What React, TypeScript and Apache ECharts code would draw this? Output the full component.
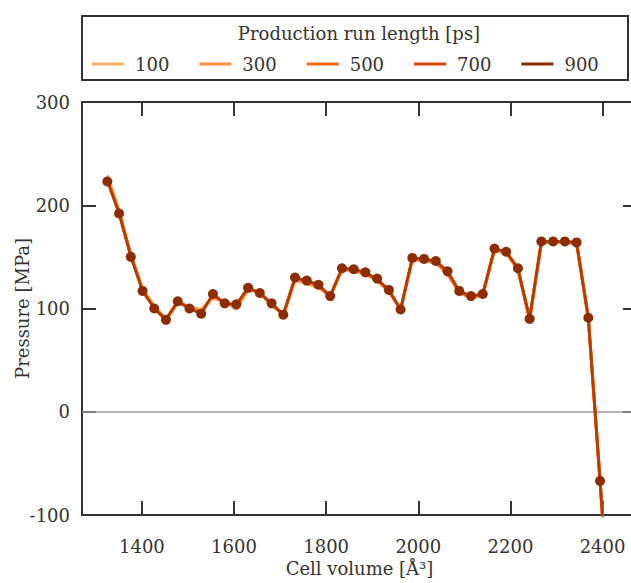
import React, { useEffect, useRef } from "react";
import * as echarts from "echarts";

const volumes = [1325.0,1350.5,1375.9,1401.4,1426.9,1452.3,1477.8,1503.3,1528.7,1554.2,1579.7,1605.1,1630.6,1656.0,1681.5,1707.0,1732.4,1757.9,1783.4,1808.8,1834.3,1859.8,1885.2,1910.7,1936.2,1961.6,1987.1,2012.6,2038.0,2063.5,2088.9,2114.4,2139.9,2165.3,2190.8,2216.3,2241.7,2267.2,2292.7,2318.1,2343.6,2369.1,2394.5,2420.0];

const p100 = [229,195,153,119,102,90,106,102,99,110,107,99,118,116,103,94,127,124,120,112,137,136,133,127,116,99,147,146,144,133,115,110,113,156,154,137,90,164,164,164,163,90,-65,-229];
const p300 = [227,194,152,118,101,90,106,101,97,112,106,102,119,115,104,94,128,126,121,112,138,137,134,128,117,99,148,147,145,134,116,111,113,157,154,138,90,164,164,164,163,90,-66,-230];
const p500 = [225,193,151,118,101,89,106,101,96,113,105,103,120,115,104,94,129,126,122,112,138,138,134,128,117,99,148,148,145,135,116,111,114,157,155,138,90,164,165,165,164,91,-66,-231];
const p700 = [224,192,151,117,100,89,107,100,95,114,105,104,120,115,105,94,130,127,123,112,139,138,135,128,118,99,149,148,146,136,117,112,114,158,155,139,90,165,165,165,164,91,-67,-232];
const p900 = [223,192,150,117,100,89,107,100,95,114,105,104,120,115,105,94,130,127,123,112,139,138,135,129,118,99,149,148,146,136,117,112,114,158,155,139,90,165,165,165,164,91,-67,-232];

const runLengths = ["100", "300", "500", "700", "900"];
const seriesValues = [p100, p300, p500, p700, p900];
const colors = ["#fdae6b", "#fd8d3c", "#f16913", "#d94801", "#8c2d04"];
const xTicks = [1400, 1600, 1800, 2000, 2200, 2400];

const FONT = "DejaVu Serif";
const TXT = "#333333";

export default function App() {
  const ref = useRef<HTMLDivElement>(null);
  useEffect(() => {
    if (!ref.current) return;
    const chart = echarts.init(ref.current, null, { renderer: "svg" });
    const axisLine = { show: true, onZero: false, lineStyle: { color: "#333", width: 2 } };
    const tick = { show: true, inside: true, length: 14, lineStyle: { color: "#333", width: 2 } };
    const fmt = (v: number) => String(v);
    const series: any[] = runLengths.map((name, i) => {
      const last = i === runLengths.length - 1;
      return {
        name,
        type: "line",
        data: volumes.map((v, j) => [v, seriesValues[i][j]]),
        showSymbol: last,
        symbol: "circle",
        symbolSize: 10,
        itemStyle: { color: colors[i] },
        lineStyle: last
          ? { color: colors[i], width: 2, opacity: 0.5 }
          : { color: colors[i], width: 3 },
        z: 2 + i,
        clip: true,
      };
    });
    series.unshift({
      name: "zero",
      type: "line",
      data: [],
      z: 1,
      markLine: {
        silent: true,
        symbol: ["none", "none"],
        label: { show: false },
        lineStyle: { color: "#999", width: 1.5, type: "solid" },
        data: [{ yAxis: 0 }],
      },
    });
    chart.setOption({
      animation: false,
      textStyle: { fontFamily: FONT },
      graphic: [
        {
          type: "rect",
          shape: { x: 82, y: 16, width: 546, height: 64 },
          style: { fill: "none", stroke: "#333", lineWidth: 2 },
        },
      ],
      title: {
        text: "Production run length [ps]",
        left: 359,
        top: 24,
        padding: 0,
        textAlign: "center",
        textStyle: { fontFamily: FONT, fontSize: 18, fontWeight: "normal", color: TXT },
      },
      legend: {
        data: runLengths,
        left: 92,
        top: 55,
        padding: 0,
        icon: "rect",
        itemWidth: 32,
        itemHeight: 3,
        itemGap: 30,
        textStyle: { fontFamily: FONT, fontSize: 18, color: TXT, padding: [0, 0, 0, 6] },
      },
      grid: { left: 82, top: 102, width: 555, height: 413, outerBoundsMode: "none", containLabel: false },
      xAxis: [
        {
          type: "value",
          min: 1270,
          max: 2474.75,
          position: "bottom",
          name: "Cell volume [Å³]",
          nameLocation: "middle",
          nameGap: 44,
          nameMoveOverlap: false,
          nameTextStyle: { fontFamily: FONT, fontSize: 18, color: TXT },
          axisLine,
          axisTick: { ...tick, customValues: xTicks },
          axisLabel: { fontFamily: FONT, fontSize: 18, color: TXT, margin: 22, customValues: xTicks, formatter: fmt },
          splitLine: { show: false },
        },
        {
          type: "value",
          min: 1270,
          max: 2474.75,
          position: "top",
          axisLine,
          axisTick: { ...tick, customValues: xTicks },
          axisLabel: { show: false },
          splitLine: { show: false },
        },
      ],
      yAxis: [
        {
          type: "value",
          min: -100,
          max: 300,
          interval: 100,
          position: "left",
          z: 3,
          name: "Pressure [MPa]",
          nameLocation: "middle",
          nameGap: 51,
          nameMoveOverlap: false,
          nameTextStyle: { fontFamily: FONT, fontSize: 18, color: TXT },
          axisLine,
          axisTick: tick,
          axisLabel: { fontFamily: FONT, fontSize: 18, color: TXT, margin: 12, formatter: fmt },
          splitLine: { show: false },
        },
        {
          type: "value",
          min: -100,
          max: 300,
          interval: 100,
          position: "right",
          z: 3,
          axisLine,
          axisTick: tick,
          axisLabel: { show: false },
          splitLine: { show: false },
        },
      ],
      series,
    });
    return () => chart.dispose();
  }, []);
  return (
    <div
      ref={ref}
      style={{ position: "fixed", left: 0, top: 0, width: 631, height: 583, background: "#fff" }}
    />
  );
}
